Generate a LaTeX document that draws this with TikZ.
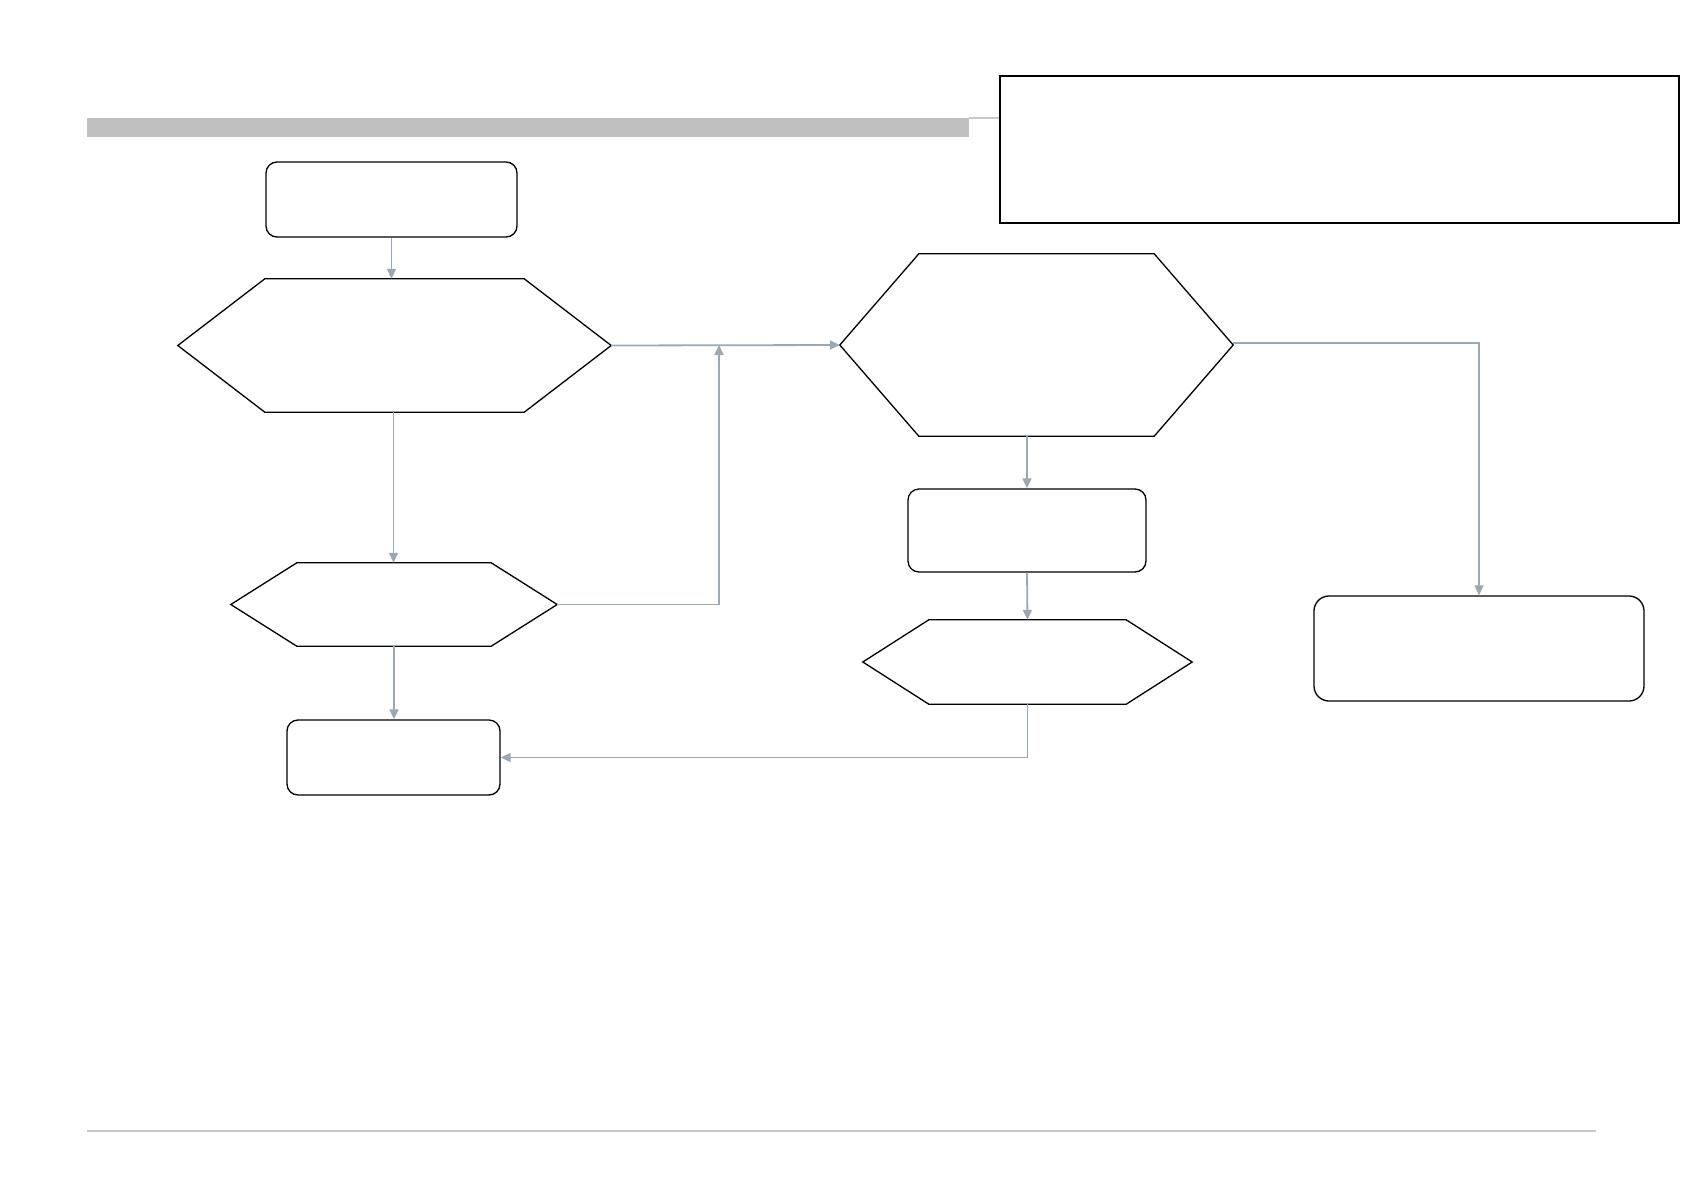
\documentclass[tikz,border=0pt]{standalone}
\usepackage{tikz}
\usetikzlibrary{arrows.meta}
\definecolor{linkgray}{HTML}{9BA9B6}
\definecolor{bandgray}{HTML}{C0C0C0}
\definecolor{rulegray}{HTML}{C8C8C8}

\begin{document}
\begin{tikzpicture}[x=1pt,y=-1pt,
  stepbox/.style={draw,line width=1.3pt,rounded corners=11pt,inner sep=0pt},
  hexbox/.style={inner sep=0pt},
  notebox/.style={draw,line width=2pt,inner sep=0pt},
  link/.style={draw=linkgray,line width=1.8pt,-{Triangle[length=10pt,width=9pt]}}]
\useasboundingbox (0,0) rectangle (1683,1191);
% header band and footer rule
\node[fill=bandgray,minimum width=882pt,minimum height=19pt,inner sep=0pt](band) at (528,127.5){};
\node[notebox,minimum width=679pt,minimum height=147pt](note) at (1339.5,149.5){};
\draw[rulegray,line width=1.5pt](band.north east)--(band.north east -| note.west);
\draw[rulegray,line width=1.2pt](87,1131)--(1596,1131);
% boxes
\node[stepbox,minimum width=251pt,minimum height=75pt](start) at (391.5,199.5){};
\node[stepbox,minimum width=213pt,minimum height=75pt](finish) at (393.5,757.5){};
\node[stepbox,minimum width=238pt,minimum height=83pt](act) at (1027,530.5){};
\node[stepbox,minimum width=330pt,minimum height=105pt,rounded corners=15pt](other) at (1479,648.5){};
% hexagons
\node[hexbox,minimum width=433pt,minimum height=133pt](chka) at (394.5,345.5){};
\node[hexbox,minimum width=326pt,minimum height=83pt](chkb) at (394,604.5){};
\node[hexbox,minimum width=393pt,minimum height=182pt](chkc) at (1036.5,345){};
\node[hexbox,minimum width=329pt,minimum height=84pt](chkd) at (1027.5,662){};
\foreach \n/\d in {chka/87,chkb/66,chkc/79,chkd/66}
  \draw[line width=1.3pt,line join=miter](\n.west)--([xshift=\d pt]\n.north west)--([xshift=-\d pt]\n.north east)
    --(\n.east)--([xshift=-\d pt]\n.south east)--([xshift=\d pt]\n.south west)--cycle;
% connectors
\coordinate(join) at (719,345);
\draw[link](start.south)--(start.south |- chka.north);
\draw[link]([xshift=-1pt]chka.south)--([xshift=-1pt]chka.south |- chkb.north);
\draw[link](chkb.east)-|(join);
\draw[link](chkb.south)--(chkb.south |- finish.north);
\draw[link](chka.east)--(chkc.west);
\draw[link](act.north |- chkc.south)--(act.north);
\draw[link](act.south)--(chkd.north);
\draw[link](chkd.south)|-(finish.east);
\draw[link,line width=1.1pt]([yshift=2pt]chkc.east)-|(other.north);
\end{tikzpicture}
\end{document}
